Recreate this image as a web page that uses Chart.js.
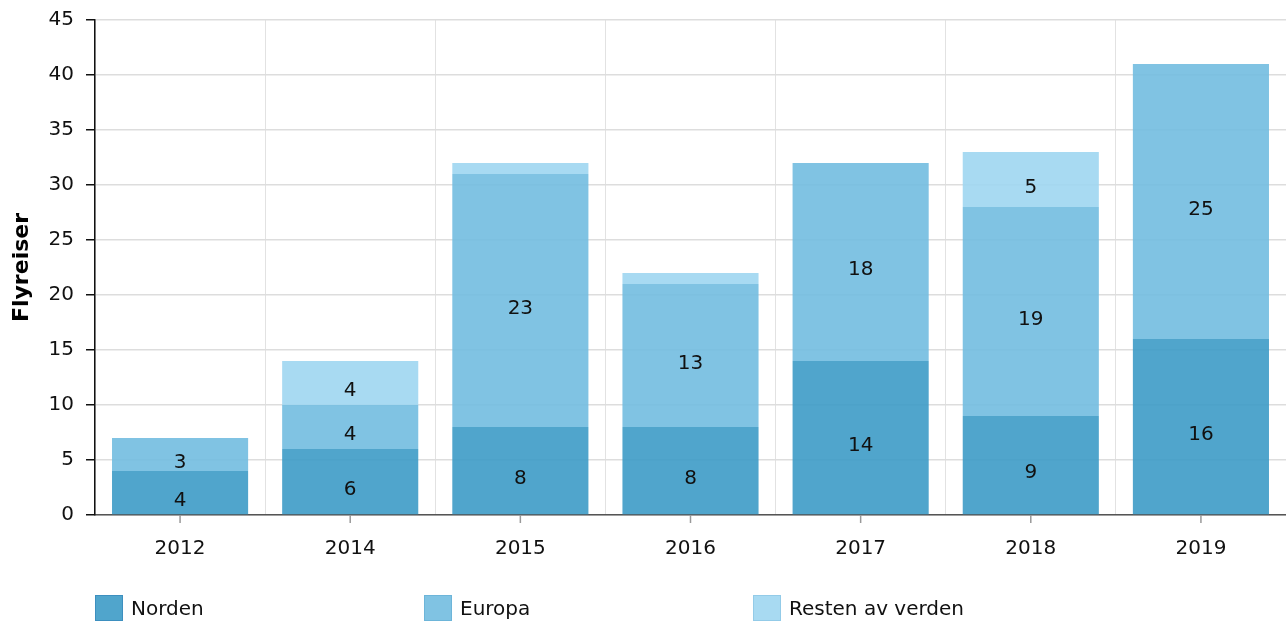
<!doctype html>
<html lang="no">
<head>
<meta charset="utf-8">
<title>Flyreiser</title>
<script src="https://cdn.jsdelivr.net/npm/chart.js"></script>
<style>
  body { margin: 0; background: #fff; }
  #wrap { position: relative; width: 1286px; height: 622px; }
  #legend { position: absolute; left: 95px; top: 595px; display: flex; font: 20px "DejaVu Sans", sans-serif; color: #111; }
  #legend .item { width: 329px; display: flex; align-items: center; }
  #legend .box { width: 26px; height: 24px; margin-right: 8px; border: 1px solid; }
</style>
</head>
<body>
<div id="wrap">
  <canvas id="myChart" width="1286" height="622"></canvas>
  <div id="legend"></div>
</div>
<script>
const years = ['2012', '2014', '2015', '2016', '2017', '2018', '2019'];
const norden = [4, 6, 8, 8, 14, 9, 16];
const europa = [3, 4, 23, 13, 18, 19, 25];
const resten = [0, 4, 1, 1, 0, 5, 0];
const yTicksMax = 45;

const fontFam = '"DejaVu Sans", sans-serif';

// etiketter midt i hver bit av stabelen
const segLabels = {
  id: 'segLabels',
  afterDatasetsDraw(chart) {
    const ctx = chart.ctx;
    ctx.save();
    ctx.font = '20px ' + fontFam;
    ctx.fillStyle = '#111';
    ctx.textAlign = 'center';
    ctx.textBaseline = 'middle';
    chart.data.datasets.forEach((ds, i) => {
      const meta = chart.getDatasetMeta(i);
      meta.data.forEach((bar, j) => {
        const v = ds.data[j];
        if (v < 2) return;
        ctx.fillText(String(v), bar.x, (bar.y + bar.base) / 2 + 8);
      });
    });
    ctx.restore();
  }
};

// små streker under hver kategori
const xTickMarks = {
  id: 'xTickMarks',
  afterDraw(chart) {
    const sc = chart.scales.x;
    const ctx = chart.ctx;
    ctx.save();
    ctx.strokeStyle = '#999';
    ctx.lineWidth = 1.5;
    sc.ticks.forEach((t, i) => {
      const x = sc.getPixelForTick(i);
      ctx.beginPath();
      ctx.moveTo(x, sc.top);
      ctx.lineTo(x, sc.top + 8);
      ctx.stroke();
    });
    ctx.restore();
  }
};

const chart = new Chart(document.getElementById('myChart'), {
  type: 'bar',
  data: {
    labels: years,
    datasets: [
      { label: 'Norden', data: norden, backgroundColor: 'rgba(61,155,199,0.9)', borderColor: '#3d8fbf' },
      { label: 'Europa', data: europa, backgroundColor: 'rgba(114,188,224,0.9)', borderColor: '#6db5d9' },
      { label: 'Resten av verden', data: resten, backgroundColor: 'rgba(158,214,241,0.9)', borderColor: '#93cbe8' }
    ]
  },
  options: {
    responsive: false,
    animation: false,
    barPercentage: 0.8,
    categoryPercentage: 1,
    layout: { padding: { top: 20, right: 0, left: 0, bottom: 0 } },
    plugins: {
      legend: { display: false },
      tooltip: { enabled: false }
    },
    scales: {
      x: {
        stacked: true,
        afterFit(s) { s.height = 107; s.paddingLeft = 0; s.paddingRight = 0; },
        grid: { offset: true, drawTicks: false, color: '#e2e2e2', lineWidth: 1 },
        border: { color: '#555', width: 1.5 },
        ticks: { padding: 22, color: '#111', font: { size: 20, family: fontFam } }
      },
      y: {
        stacked: true,
        min: 0,
        max: yTicksMax,
        afterFit(s) { s.width = 95; s.paddingTop = 0; s.paddingBottom = 0; },
        grid: { color: '#dddddd', tickColor: '#111', tickLength: 9, lineWidth: 1.5 },
        border: { color: '#111', width: 1.5 },
        ticks: { stepSize: 5, padding: 12, color: '#111', font: { size: 20, family: fontFam } },
        title: { display: true, text: 'Flyreiser', color: '#000', padding: { top: 9, bottom: 0 }, font: { size: 22, weight: 'bold', family: fontFam } }
      }
    }
  },
  plugins: [segLabels, xTickMarks]
});

// legende under figuren, bygd fra datasettene
const leg = document.getElementById('legend');
chart.data.datasets.forEach(ds => {
  const it = document.createElement('div');
  it.className = 'item';
  const b = document.createElement('span');
  b.className = 'box';
  b.style.background = ds.backgroundColor;
  b.style.borderColor = ds.borderColor;
  const t = document.createElement('span');
  t.textContent = ds.label;
  it.appendChild(b);
  it.appendChild(t);
  leg.appendChild(it);
});
</script>
</body>
</html>
